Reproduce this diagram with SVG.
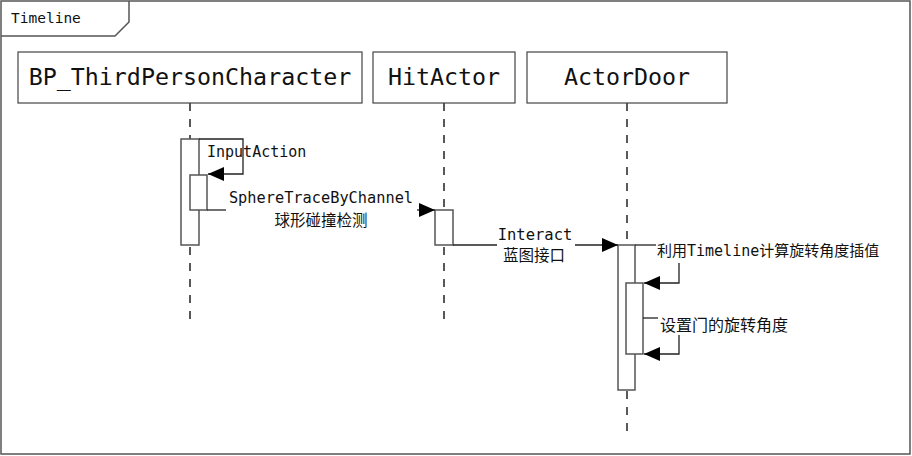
<svg xmlns="http://www.w3.org/2000/svg" width="912" height="456" viewBox="0 0 912 456">
<defs>
<style>
.frame{fill:none;stroke:#555;stroke-width:1.5}
.box{fill:#fff;stroke:#444;stroke-width:1.2}
.life{stroke:#222;stroke-width:1.5;stroke-dasharray:8,8;fill:none}
.act{fill:#fff;stroke:#555;stroke-width:1.5}
.msg{fill:none;stroke:#222;stroke-width:1.3}
.ptxt{font-family:"DejaVu Sans Mono","Liberation Mono",monospace;font-size:23.3px;fill:#111;text-anchor:middle}
.lbl{font-family:"DejaVu Sans Mono","Noto Sans CJK SC",monospace;font-size:15px;fill:#111}
.cjk{font-family:"Noto Sans CJK SC",sans-serif;font-size:15.5px;fill:#111}
</style>
<marker id="ah" viewBox="0 0 16 14" refX="16" refY="7" markerWidth="16" markerHeight="14" markerUnits="userSpaceOnUse" orient="auto">
<path d="M0,0 L16,7 L0,14 Z" fill="#000"/>
</marker>
</defs>
<rect width="912" height="456" fill="#fff"/>
<g id="frame">
<rect class="frame" x="1" y="1" width="909" height="453"/>
<path class="frame" d="M1,36 L115,36 L129,22 L129,1"/>
<text x="11" y="23" style="font-family:'DejaVu Sans Mono',monospace;font-size:14.5px;fill:#111">Timeline</text>
</g>
<g id="lifelines">
<line class="life" x1="190" y1="103" x2="190" y2="327"/>
<line class="life" x1="444" y1="103" x2="444" y2="327"/>
<line class="life" x1="627" y1="103" x2="627" y2="436"/>
</g>
<g id="p_bp">
<rect class="box" x="18" y="52" width="344" height="51"/>
<text class="ptxt" x="190" y="85">BP_ThirdPersonCharacter</text>
</g>
<g id="p_hit">
<rect class="box" x="373" y="52" width="142" height="51"/>
<text class="ptxt" x="444" y="85">HitActor</text>
</g>
<g id="p_door">
<rect class="box" x="527" y="52" width="200" height="51"/>
<text class="ptxt" x="627" y="85">ActorDoor</text>
</g>
<g id="activations">
<rect class="act" x="181" y="139" width="18" height="106"/>
<rect class="act" x="190" y="175" width="17" height="35"/>
<rect class="act" x="435" y="210" width="18" height="35"/>
<rect class="act" x="618" y="245" width="17" height="145"/>
<rect class="act" x="626" y="283" width="17" height="71"/>
</g>
<g id="connectors">
<path class="msg" d="M199,139 L243,139 L243,174 L208,174" marker-end="url(#ah)"/>
<path class="msg" d="M207,210 L226,210"/>
<path class="msg" d="M417,210 L435,210" marker-end="url(#ah)"/>
<path class="msg" d="M453,245 L497,245"/>
<path class="msg" d="M575,245 L618,245" marker-end="url(#ah)"/>
<path class="msg" d="M635,245 L656,245"/>
<path class="msg" d="M679,263 L679,283 L644,283" marker-end="url(#ah)"/>
<path class="msg" d="M643,318 L658,318"/>
<path class="msg" d="M679,335 L679,354 L644,354" marker-end="url(#ah)"/>
</g>
<g id="labels">
<text class="lbl" x="207" y="157">InputAction</text>
<text class="lbl" x="321" y="203" text-anchor="middle" style="font-size:15.3px">SphereTraceByChannel</text>
<text class="cjk" x="321" y="226" text-anchor="middle">球形碰撞检测</text>
<text class="lbl" x="535" y="240" text-anchor="middle" style="font-size:15.5px">Interact</text>
<text class="cjk" x="534" y="261" text-anchor="middle">蓝图接口</text>
<text class="lbl" x="657" y="256" style="font-size:15px">利用Timeline计算旋转角度插值</text>
<text class="cjk" x="660" y="331" style="font-size:16px">设置门的旋转角度</text>
</g>
</svg>
